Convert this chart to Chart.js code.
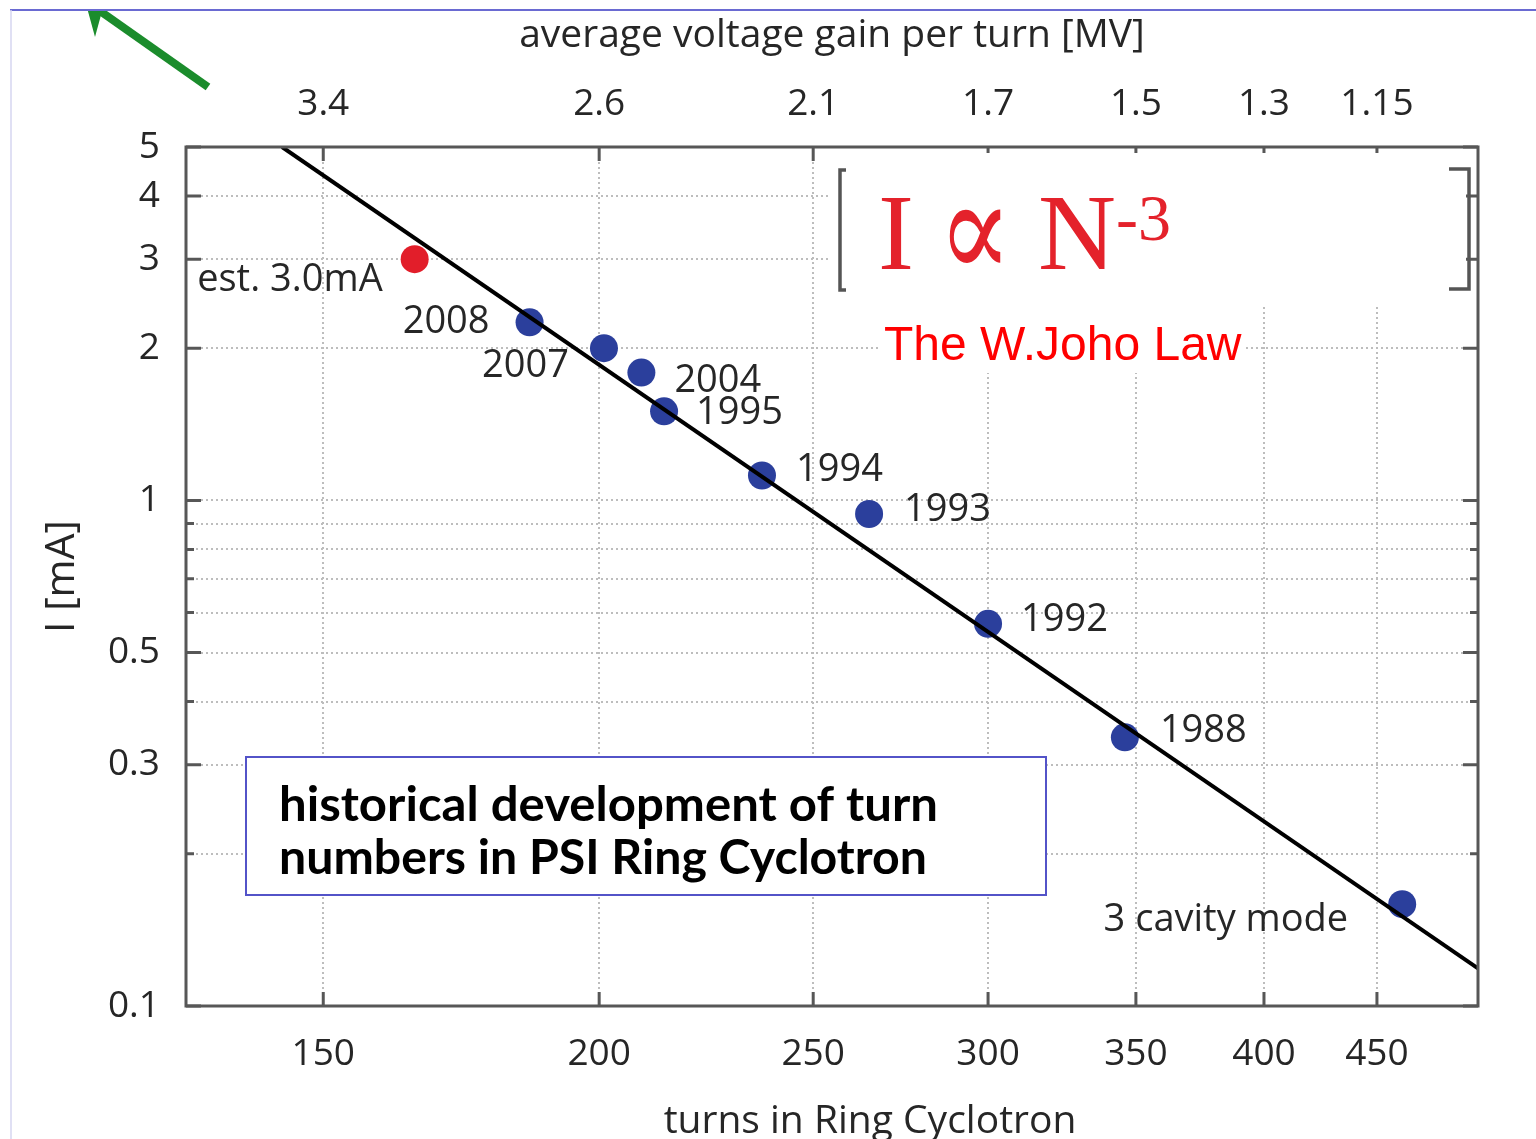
<!DOCTYPE html>
<html>
<head>
<meta charset="utf-8">
<script src="https://cdn.jsdelivr.net/npm/chart.js@4.4.1/dist/chart.umd.min.js"></script>
<style>
  html, body { margin: 0; padding: 0; background: #ffffff; overflow: hidden; }
  #wrap { position: absolute; left: 0; top: 0; width: 1536px; height: 1139px; }
</style>
</head>
<body>
<div id="wrap"><canvas id="c" width="1536" height="1139"></canvas></div>
<script>
// ---------- data ----------
const xTicks = [150, 200, 250, 300, 350, 400, 450];
const voltageLabels = ['3.4', '2.6', '2.1', '1.7', '1.5', '1.3', '1.15'];
const yTicks = [0.1, 0.2, 0.3, 0.4, 0.5, 0.6, 0.7, 0.8, 0.9, 1, 2, 3, 4, 5];
const yTickLabels = ['0.1', '', '0.3', '', '0.5', '', '', '', '', '1', '2', '3', '4', '5'];

const histTurns   = [186, 201, 209, 214, 237, 265, 300, 346, 462];
const histCurrent = [2.25, 2.0, 1.79, 1.50, 1.12, 0.94, 0.57, 0.34, 0.159];
const histLabels  = ['2008', '2007', '2004', '1995', '1994', '1993', '1992', '1988', '3 cavity mode'];

const estTurns   = [165];
const estCurrent = [3.0];
const estLabels  = ['est. 3.0mA'];

const fitTurns   = [143.7, 500];
const fitCurrent = [5, 0.1187];

// label placement (pixel offsets from the point; style only)
const histLabelOffsets = [
  [-40, 0, 'right'], [-35, 18, 'right'], [33, 9, 'left'], [32, 2, 'left'],
  [34, -5, 'left'], [35, -4, 'left'], [33, -4, 'left'], [35, -6, 'left'], [-54, 16, 'right']
];
const estLabelOffsets = [[-32, 21, 'right']];

const LABEL_FONT = '38px "Open Sans"';
const TEXT_COL = '#262626';
const FRAME_COL = '#575757';

function pts(xs, ys) { return xs.map((x, i) => ({ x: x, y: ys[i] })); }

function fitText(ctx, text, x, y, width, font) {
  ctx.save();
  ctx.font = font;
  const w = ctx.measureText(text).width;
  const sx = width / w;
  ctx.translate(x, y);
  ctx.scale(sx, 1);
  ctx.fillText(text, 0, 0);
  ctx.restore();
}

const annotations = {
  id: 'annotations',
  afterDraw(chart) {
    const ctx = chart.ctx;
    const ca = chart.chartArea;
    const ys = chart.scales.y, xs = chart.scales.x;
    ctx.save();

    // inner tick marks
    ctx.strokeStyle = FRAME_COL;
    ctx.lineWidth = 3;
    ys.ticks.forEach((t, i) => {
      const py = ys.getPixelForValue(t.value);
      const len = yTickLabels[i] ? 15 : 8;
      ctx.beginPath();
      ctx.moveTo(ca.left, py); ctx.lineTo(ca.left + len, py);
      ctx.moveTo(ca.right, py); ctx.lineTo(ca.right - len, py);
      ctx.stroke();
    });
    xs.ticks.forEach((t) => {
      const px = xs.getPixelForValue(t.value);
      ctx.beginPath();
      ctx.moveTo(px, ca.bottom); ctx.lineTo(px, ca.bottom - 14);
      ctx.moveTo(px, ca.top); ctx.lineTo(px, ca.top + 14);
      ctx.stroke();
    });

    // white backgrounds of the formula image and the law text
    ctx.fillStyle = '#ffffff';
    ctx.fillRect(828, 153, 638, 152);
    ctx.fillRect(878, 305, 368, 68);

    // brackets
    ctx.strokeStyle = '#555555';
    ctx.lineWidth = 3.5;
    ctx.beginPath();
    ctx.moveTo(846, 170); ctx.lineTo(840, 170); ctx.lineTo(840, 290); ctx.lineTo(846, 290);
    ctx.moveTo(1449, 169); ctx.lineTo(1469, 169); ctx.lineTo(1469, 289); ctx.lineTo(1449, 289);
    ctx.stroke();

    // formula
    ctx.fillStyle = '#e4222b';
    ctx.textBaseline = 'alphabetic';
    ctx.textAlign = 'left';
    ctx.font = '108px "Liberation Serif"';
    ctx.fillText('I', 878, 269);
    fitText(ctx, '\u221D', 938, 278, 74, '140px "DejaVu Serif"');
    ctx.font = '108px "Liberation Serif"';
    ctx.fillText('N', 1038, 269);
    ctx.font = '66px "Liberation Serif"';
    ctx.fillText('-3', 1116, 240);

    // law text
    ctx.fillStyle = '#ff0000';
    ctx.font = '48px "Liberation Sans"';
    ctx.fillText('The W.Joho Law', 884, 360);

    // info box
    ctx.fillStyle = '#ffffff';
    ctx.fillRect(246, 757, 800, 138);
    ctx.strokeStyle = '#5353c8';
    ctx.lineWidth = 2;
    ctx.strokeRect(246, 757, 800, 138);
    ctx.fillStyle = '#000000';
    fitText(ctx, 'historical development of turn', 279, 821, 659, 'bold 47px Lato');
    fitText(ctx, 'numbers in PSI Ring Cyclotron', 279, 874, 648, 'bold 47px Lato');

    // point labels
    ctx.fillStyle = TEXT_COL;
    ctx.font = LABEL_FONT;
    ctx.textBaseline = 'middle';
    const m1 = chart.getDatasetMeta(1).data;
    m1.forEach((p, i) => {
      const o = histLabelOffsets[i];
      ctx.textAlign = o[2];
      ctx.fillText(histLabels[i], p.x + o[0], p.y + o[1]);
    });
    const m2 = chart.getDatasetMeta(2).data;
    m2.forEach((p, i) => {
      const o = estLabelOffsets[i];
      ctx.textAlign = o[2];
      ctx.fillText(estLabels[i], p.x + o[0], p.y + o[1]);
    });

    // bottom axis title (placed off-centre as in the original)
    ctx.textAlign = 'center';
    ctx.textBaseline = 'alphabetic';
    ctx.font = '39px "Open Sans"';
    ctx.fillText('turns in Ring Cyclotron', 870, 1133);

    // frame
    ctx.strokeStyle = FRAME_COL;
    ctx.lineWidth = 3;
    ctx.strokeRect(ca.left, ca.top, ca.right - ca.left, ca.bottom - ca.top);

    // slide artifacts: border lines and green arrow
    ctx.strokeStyle = '#6a6ad2';
    ctx.lineWidth = 2;
    ctx.beginPath(); ctx.moveTo(10, 10); ctx.lineTo(1536, 10); ctx.stroke();
    ctx.strokeStyle = '#d6d6f0';
    ctx.lineWidth = 1.5;
    ctx.beginPath(); ctx.moveTo(11, 10); ctx.lineTo(11, 1139); ctx.stroke();

    ctx.save();
    ctx.beginPath(); ctx.rect(0, 11, 400, 200); ctx.clip();
    ctx.strokeStyle = '#1b8c2c';
    ctx.fillStyle = '#1b8c2c';
    ctx.lineWidth = 8;
    ctx.lineCap = 'butt';
    ctx.beginPath(); ctx.moveTo(208, 87); ctx.lineTo(100, 11); ctx.stroke();
    ctx.beginPath(); ctx.moveTo(95, 37); ctx.lineTo(86, 4); ctx.lineTo(104, 4); ctx.closePath(); ctx.fill();
    ctx.restore();

    ctx.restore();
  }
};

const tickFont = { family: 'Open Sans', size: 37, lineHeight: 1 };
const gridCol = '#bdbdbd';

new Chart(document.getElementById('c'), {
  type: 'scatter',
  data: {
    datasets: [
      { type: 'line', data: pts(fitTurns, fitCurrent), borderColor: '#000000', borderWidth: 4,
        pointRadius: 0, fill: false, showLine: true, xAxisID: 'x', yAxisID: 'y' },
      { data: pts(histTurns, histCurrent), backgroundColor: '#2b3f9c', borderWidth: 0, pointRadius: 14,
        xAxisID: 'x', yAxisID: 'y' },
      { data: pts(estTurns, estCurrent), backgroundColor: '#e21e2a', borderWidth: 0, pointRadius: 14,
        xAxisID: 'x', yAxisID: 'y' }
    ]
  },
  options: {
    responsive: false,
    animation: false,
    devicePixelRatio: 1,
    layout: { padding: { left: 0, right: 58, top: 0, bottom: 0 } },
    plugins: { legend: { display: false }, tooltip: { enabled: false } },
    scales: {
      x: {
        type: 'logarithmic', position: 'bottom', min: 130, max: 500,
        afterBuildTicks: s => { s.ticks = xTicks.map(v => ({ value: v })); },
        afterFit: s => { s.height = 133; },
        ticks: { autoSkip: false, maxRotation: 0, padding: 30, color: TEXT_COL, font: tickFont,
                 callback: (v, i) => String(xTicks[i]) },
        grid: { color: gridCol, lineWidth: 2, drawTicks: false },
        border: { display: false, dash: [2, 3] },
        title: { display: false }
      },
      x2: {
        type: 'logarithmic', position: 'top', min: 130, max: 500,
        afterBuildTicks: s => { s.ticks = xTicks.map(v => ({ value: v })); },
        afterFit: s => { s.height = 147; },
        ticks: { autoSkip: false, maxRotation: 0, padding: 24, color: TEXT_COL, font: tickFont,
                 callback: (v, i) => voltageLabels[i] },
        grid: { display: false, drawTicks: false },
        border: { display: false },
        title: { display: true, text: 'average voltage gain per turn [MV]', color: TEXT_COL,
                 font: { family: 'Open Sans', size: 39, lineHeight: 1 },
                 padding: { top: 16, bottom: 0 } }
      },
      y: {
        type: 'logarithmic', position: 'left', min: 0.1, max: 5,
        afterBuildTicks: s => { s.ticks = yTicks.map(v => ({ value: v })); },
        afterFit: s => { s.width = 186; },
        ticks: { autoSkip: false, padding: 26, color: TEXT_COL, font: tickFont,
                 callback: (v, i) => yTickLabels[i] },
        grid: { color: gridCol, lineWidth: 2, drawTicks: false },
        border: { display: false, dash: [2, 3] },
        title: { display: true, text: 'I [mA]', color: TEXT_COL,
                 font: { family: 'Open Sans', size: 41, lineHeight: 1 },
                 padding: { top: 42, bottom: 0 } }
      }
    }
  },
  plugins: [annotations]
});
</script>
</body>
</html>
